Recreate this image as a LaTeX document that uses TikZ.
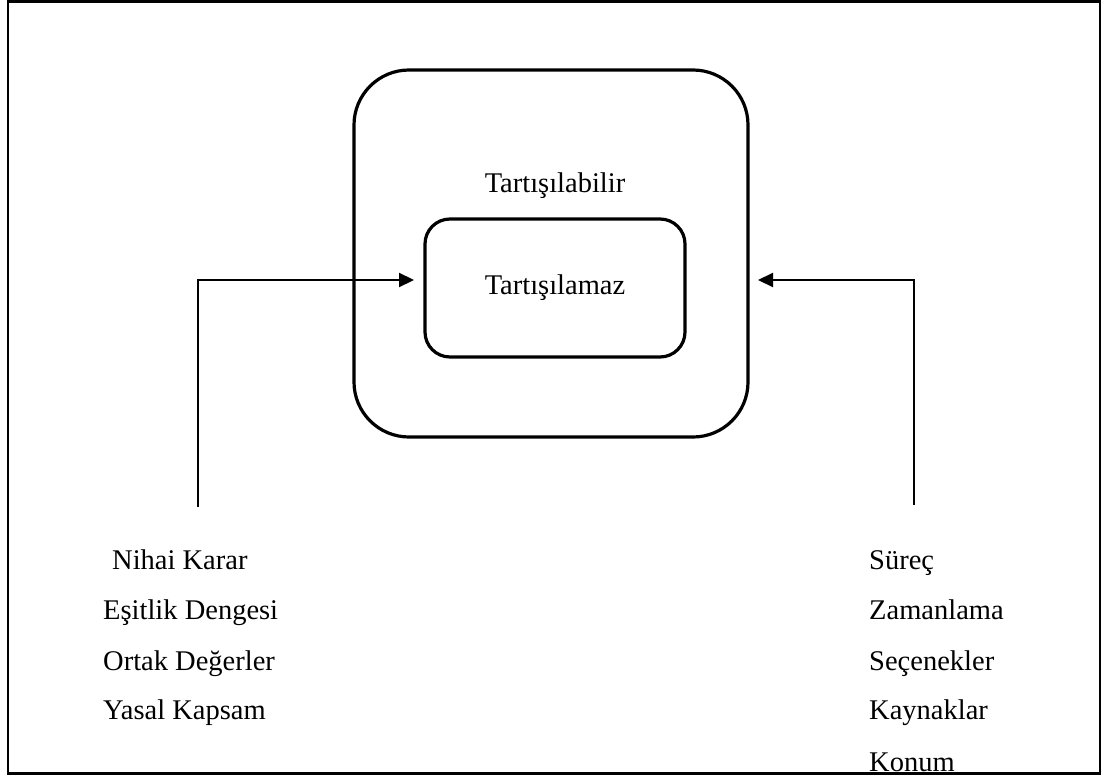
\documentclass[tikz,border=0pt]{standalone}
\usepackage{fontspec}
\setmainfont{Liberation Serif}
\usetikzlibrary{arrows.meta}
\begin{document}
\begin{tikzpicture}[x=1pt,y=-1pt,
  txt/.style={font=\fontsize{28.5}{34}\selectfont, inner sep=0pt},
  box/.style={draw, line width=3.2pt, rounded corners=#1},
  conn/.style={line width=2.2pt, -{Triangle[length=15pt,width=14pt]}},
  ]
\useasboundingbox (0,0) rectangle (1107,778);
\draw[line width=2.6pt] (8,1.5) rectangle (1100,773.5);
\node[box=55pt, minimum width=394pt, minimum height=367pt] (outer) at (551,253.5) {};
\node[box=25pt, txt, minimum width=260pt, minimum height=138pt] (inner) at (555,288) {Tartışılamaz};
\node[txt, anchor=base] (neg) at (555,193) {Tartışılabilir};
\coordinate (lstart) at (198,507);
\coordinate (ltip) at (414,280);
\coordinate (rstart) at (914,505);
\coordinate (rtip) at (758,280);
\draw[conn] (lstart) |- (ltip);
\draw[conn] (rstart) |- (rtip);
\node[txt, anchor=base west] (l1) at (112,569) {Nihai Karar};
\node[txt, anchor=base west] (l2) at (103,619) {Eşitlik Dengesi};
\node[txt, anchor=base west] (l3) at (103,670) {Ortak Değerler};
\node[txt, anchor=base west] (l4) at (103,719) {Yasal Kapsam};
\node[txt, anchor=base west] (r1) at (869,569) {Süreç};
\node[txt, anchor=base west] (r2) at (869,619) {Zamanlama};
\node[txt, anchor=base west] (r3) at (869,670) {Seçenekler};
\node[txt, anchor=base west] (r4) at (869,719) {Kaynaklar};
\node[txt, anchor=base west] (r5) at (869,771) {Konum};
\end{tikzpicture}
\end{document}
